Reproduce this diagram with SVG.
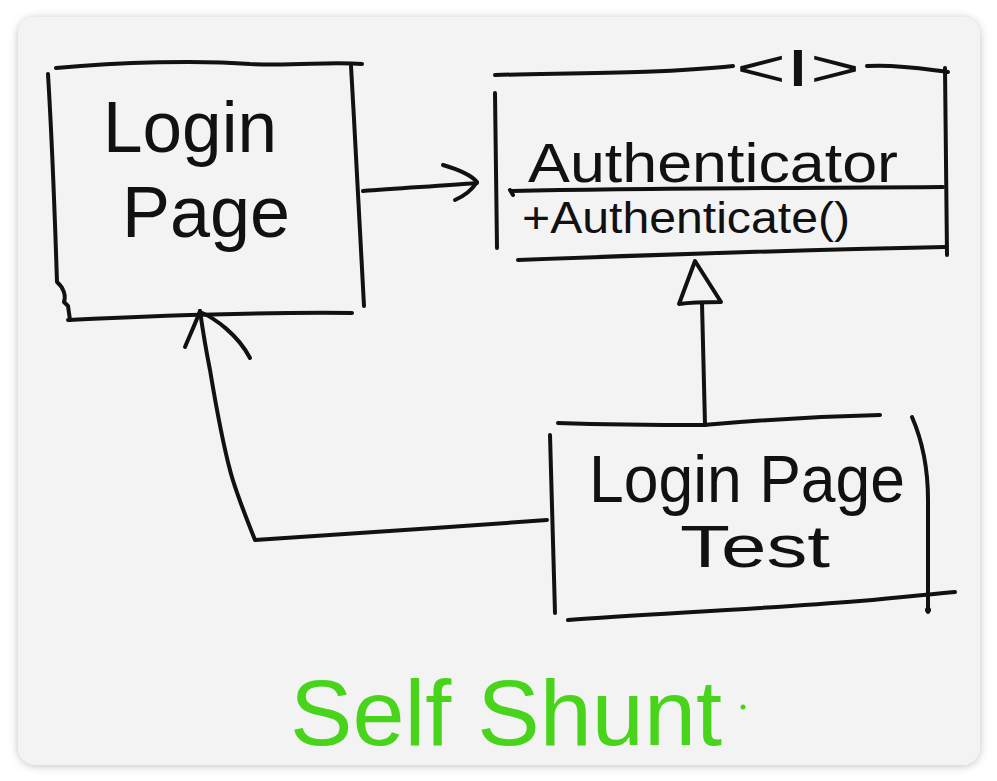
<svg xmlns="http://www.w3.org/2000/svg" width="997" height="781" viewBox="0 0 997 781">
<defs>
<filter id="shadow" x="-5%" y="-5%" width="110%" height="110%">
<feDropShadow dx="0" dy="1" stdDeviation="4" flood-color="#000" flood-opacity="0.25"/>
</filter>
</defs>
<style>
.ink{fill:none;stroke:#111;stroke-width:4;stroke-linecap:round;stroke-linejoin:round}
.txt{font-family:"Liberation Sans",Arial,sans-serif;fill:#111}
.green{font-family:"Liberation Sans",Arial,sans-serif;fill:#48d41a}
</style>
<rect width="997" height="781" fill="#ffffff"/>
<rect x="18" y="17" width="962" height="748" rx="18" fill="#f3f3f3" filter="url(#shadow)"/>

<g id="node-login-page">
<path class="ink" d="M56,68 C120,62 200,60 250,64 C300,66 330,61 362,64"/>
<path class="ink" d="M48,74 C52,140 55,220 57,282 C64,288 66,296 64,302 L68,306 L70,320"/>
<path class="ink" d="M351,66 C356,150 360,240 364,306"/>
<path class="ink" d="M68,320 C150,316 250,312 352,313"/>
<text class="txt" x="103" y="152" font-size="72" textLength="174" lengthAdjust="spacingAndGlyphs">Login</text>
<text class="txt" x="122" y="237" font-size="72" textLength="168" lengthAdjust="spacingAndGlyphs">Page</text>
</g>

<g id="node-authenticator">
<path class="ink" d="M495,75 C560,73 660,74 733,66"/>
<path class="ink" d="M867,66 C900,64 930,70 948,72"/>
<path class="ink" d="M945,68 L947,255"/>
<path class="ink" d="M495,93 L497,248"/>
<path class="ink" d="M510,190 L513,195 M512,191 C650,188 800,188 943,187"/>
<path class="ink" d="M518,260 C650,255 800,250 945,247"/>
<text class="txt" x="736" y="86" font-size="52" textLength="124" lengthAdjust="spacingAndGlyphs">&lt;I&gt;</text>
<text class="txt" x="528" y="182" font-size="56" textLength="370" lengthAdjust="spacingAndGlyphs">Authenticator</text>
<text class="txt" x="522" y="233" font-size="45" textLength="328" lengthAdjust="spacingAndGlyphs">+Authenticate()</text>
</g>

<g id="node-login-page-test">
<path class="ink" d="M558,423 C620,425 680,425 705,425 C740,422 790,417 880,415"/>
<path class="ink" d="M550,435 C552,500 554,560 555,613"/>
<path class="ink" d="M912,417 C922,440 928,470 928,500 L928,612"/>
<path class="ink" d="M568,620 C650,614 760,609 860,601 C900,598 930,594 955,592"/>
<circle cx="928" cy="610" r="3" fill="#111"/>
<text class="txt" x="589" y="502" font-size="66" textLength="316" lengthAdjust="spacingAndGlyphs">Login Page</text>
<text class="txt" x="680" y="567" font-size="60" textLength="150" lengthAdjust="spacingAndGlyphs">Test</text>
</g>

<g id="connectors">
<path class="ink" d="M363,191 C400,188 440,186 477,183"/>
<path class="ink" d="M443,165 C460,170 472,176 477,182 C472,190 464,196 455,200"/>
<path class="ink" d="M705,425 L702,303"/>
<path class="ink" d="M695,261 L679,304 C693,302 708,302 721,302 Z"/>
<path class="ink" d="M547,520 C450,527 350,534 255,540 C245,515 235,490 230,470 C222,440 215,400 210,370 C205,345 202,325 200,311"/>
<path class="ink" stroke-width="5" d="M200,311 C196,322 190,335 185,347"/>
<path class="ink" d="M200,312 C215,318 238,335 250,358"/>
</g>

<g id="caption">
<text class="green" x="290" y="745" font-size="92" textLength="432" lengthAdjust="spacingAndGlyphs">Self Shunt</text>
<circle cx="743" cy="707" r="2.5" fill="#48d41a"/>
</g>
</svg>
